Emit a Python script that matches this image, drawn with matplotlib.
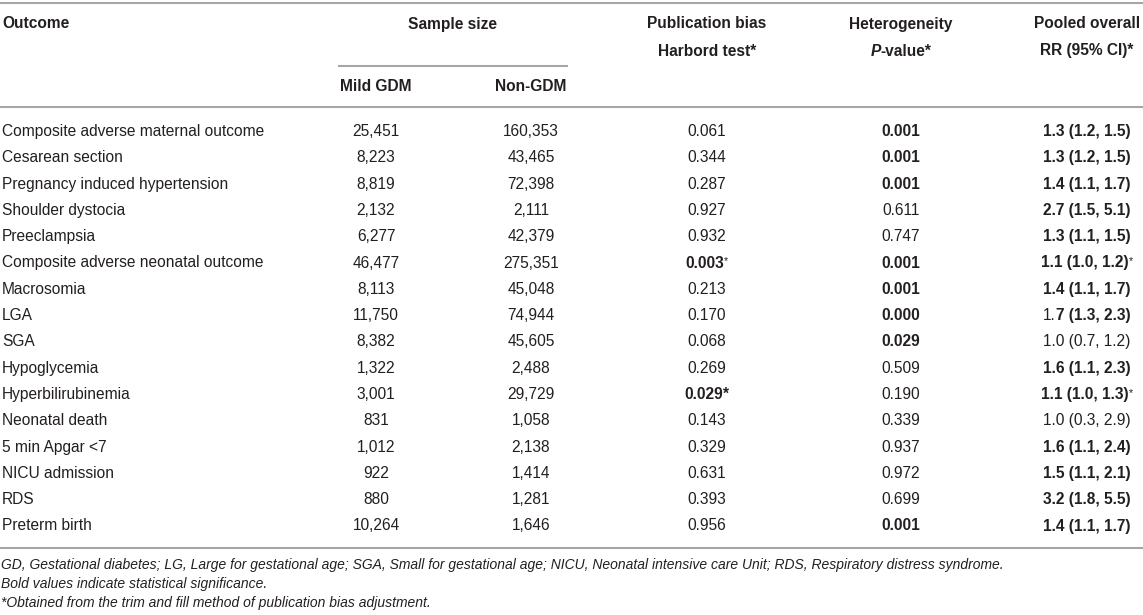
import matplotlib
matplotlib.use("Agg")
import matplotlib.pyplot as plt

# ---------------- data ----------------
outcomes = ["Composite adverse maternal outcome", "Cesarean section",
            "Pregnancy induced hypertension", "Shoulder dystocia", "Preeclampsia",
            "Composite adverse neonatal outcome", "Macrosomia", "LGA", "SGA",
            "Hypoglycemia", "Hyperbilirubinemia", "Neonatal death",
            "5 min Apgar <7", "NICU admission", "RDS", "Preterm birth"]
mild_gdm = [25451, 8223, 8819, 2132, 6277, 46477, 8113, 11750, 8382, 1322,
            3001, 831, 1012, 922, 880, 10264]
non_gdm = [160353, 43465, 72398, 2111, 42379, 275351, 45048, 74944, 45605,
           2488, 29729, 1058, 2138, 1414, 1281, 1646]
harbord_p = [0.061, 0.344, 0.287, 0.927, 0.932, 0.003, 0.213, 0.170, 0.068,
             0.269, 0.029, 0.143, 0.329, 0.631, 0.393, 0.956]
harbord_bold = [False, False, False, False, False, True, False, False, False,
                False, True, False, False, False, False, False]
harbord_mark = ["", "", "", "", "", "sup", "", "", "", "", "bold", "", "", "", "", ""]
hetero_p = [0.001, 0.001, 0.001, 0.611, 0.747, 0.001, 0.001, 0.000, 0.029,
            0.509, 0.190, 0.339, 0.937, 0.972, 0.699, 0.001]
rr = [1.3, 1.3, 1.4, 2.7, 1.3, 1.1, 1.4, 1.7, 1.0, 1.6, 1.1, 1.0, 1.6, 1.5, 3.2, 1.4]
rr_lo = [1.2, 1.2, 1.1, 1.5, 1.1, 1.0, 1.1, 1.3, 0.7, 1.1, 1.0, 0.3, 1.1, 1.1, 1.8, 1.1]
rr_hi = [1.5, 1.5, 1.7, 5.1, 1.5, 1.2, 1.7, 2.3, 1.2, 2.3, 1.3, 2.9, 2.4, 2.1, 5.5, 1.7]
rr_bold = [True, True, True, True, True, True, True, "partial", False, True,
           True, False, True, True, True, True]
rr_mark = ["", "", "", "", "", "sup", "", "", "", "", "sup", "", "", "", "", ""]

footnotes = ["GD, Gestational diabetes; LG, Large for gestational age; SGA, Small for gestational age; "
             "NICU, Neonatal intensive care Unit; RDS, Respiratory distress syndrome.",
             "Bold values indicate statistical significance.",
             "*Obtained from the trim and fill method of publication bias adjustment."]

# ---------------- figure ----------------
W, H = 1143, 615
FAM = ["Liberation Sans", "DejaVu Sans"]
FS = 11.2
COL = "#231f20"
LINE = "#a6a6a6"

fig = plt.figure(figsize=(W / 100, H / 100), dpi=100)
ax = fig.add_axes([0, 0, 1, 1])
ax.set_xlim(0, W)
ax.set_ylim(H, 0)
ax.axis("off")
fig.canvas.draw()
renderer = fig.canvas.get_renderer()


def width_of(s, weight="normal", style="normal", size=FS):
    t = ax.text(0, 0, s, fontsize=size, weight=weight, style=style, family=FAM)
    w = t.get_window_extent(renderer).width
    t.remove()
    return w


def runs(x, y, parts, ha="center"):
    """parts: list of (text, weight, style, size, raise_px)"""
    ws = [width_of(p[0], p[1], p[2], p[3]) for p in parts]
    total = sum(ws)
    if ha == "center":
        x0 = x - total / 2
    elif ha == "right":
        x0 = x - total
    else:
        x0 = x
    for p, w in zip(parts, ws):
        ax.text(x0, y - p[4], p[0], fontsize=p[3], weight=p[1], style=p[2],
                family=FAM, color=COL, ha="left", va="baseline")
        x0 += w


def R(s, bold=False, italic=False, size=FS, up=0):
    return (s, "bold" if bold else "normal", "italic" if italic else "normal", size, up)


# column x positions
X_OUT = 2
X_MILD = 376
X_NON = 531
X_SAMPLE = 453
X_PUB = 707
X_HET = 901
X_RR = 1087

# horizontal rules
ax.plot([0, W], [2.5, 2.5], color=LINE, lw=1.5, solid_capstyle="butt")
ax.plot([338, 568], [66, 66], color=LINE, lw=1.5, solid_capstyle="butt")
ax.plot([0, W], [107, 107], color=LINE, lw=1.5, solid_capstyle="butt")
ax.plot([0, W], [548, 548], color=LINE, lw=1.5, solid_capstyle="butt")

# header
HB1 = 28.5
HB2 = 55.5
runs(X_OUT, HB1, [R("Outcome", True)], ha="left")
runs(X_SAMPLE, HB1, [R("Sample size", True)])
runs(X_PUB, HB1, [R("Publication bias", True)])
runs(X_PUB, HB2, [R("Harbord test*", True)])
runs(X_HET, HB1, [R("Heterogeneity", True)])
runs(X_HET, HB2, [R("P", True, True), R("-value*", True)])
runs(X_RR, HB1, [R("Pooled overall", True)])
runs(X_RR, HB2, [R("RR (95% CI)*", True)])
runs(X_MILD, 91, [R("Mild GDM", True)])
runs(X_NON, 91, [R("Non-GDM", True)])

# body
Y0 = 136
DY = 26.3
for i, name in enumerate(outcomes):
    y = Y0 + i * DY
    runs(X_OUT, y, [R(name)], ha="left")
    runs(X_MILD, y, [R(f"{mild_gdm[i]:,}")])
    runs(X_NON, y, [R(f"{non_gdm[i]:,}")])

    pb = [R(f"{harbord_p[i]:.3f}", harbord_bold[i])]
    if harbord_mark[i] == "sup":
        pb.append(R("*", False, size=FS * 0.7, up=3))
    elif harbord_mark[i] == "bold":
        pb.append(R("*", True))
    runs(X_PUB, y, pb)

    runs(X_HET, y, [R(f"{hetero_p[i]:.3f}", hetero_p[i] < 0.05)])

    txt = f"{rr[i]:.1f} ({rr_lo[i]:.1f}, {rr_hi[i]:.1f})"
    if rr_bold[i] == "partial":
        parts = [R(txt[:2]), R(txt[2:], True)]
    else:
        parts = [R(txt, bool(rr_bold[i]))]
    if rr_mark[i] == "sup":
        parts.append(R("*", False, size=FS * 0.7, up=3))
    runs(X_RR, y, parts)

# footnotes
for j, fn in enumerate(footnotes):
    ax.text(1, 569 + j * 19, fn, fontsize=10.0, style="italic", family=FAM,
            color=COL, ha="left", va="baseline")

fig.savefig("out.png", dpi=100)
